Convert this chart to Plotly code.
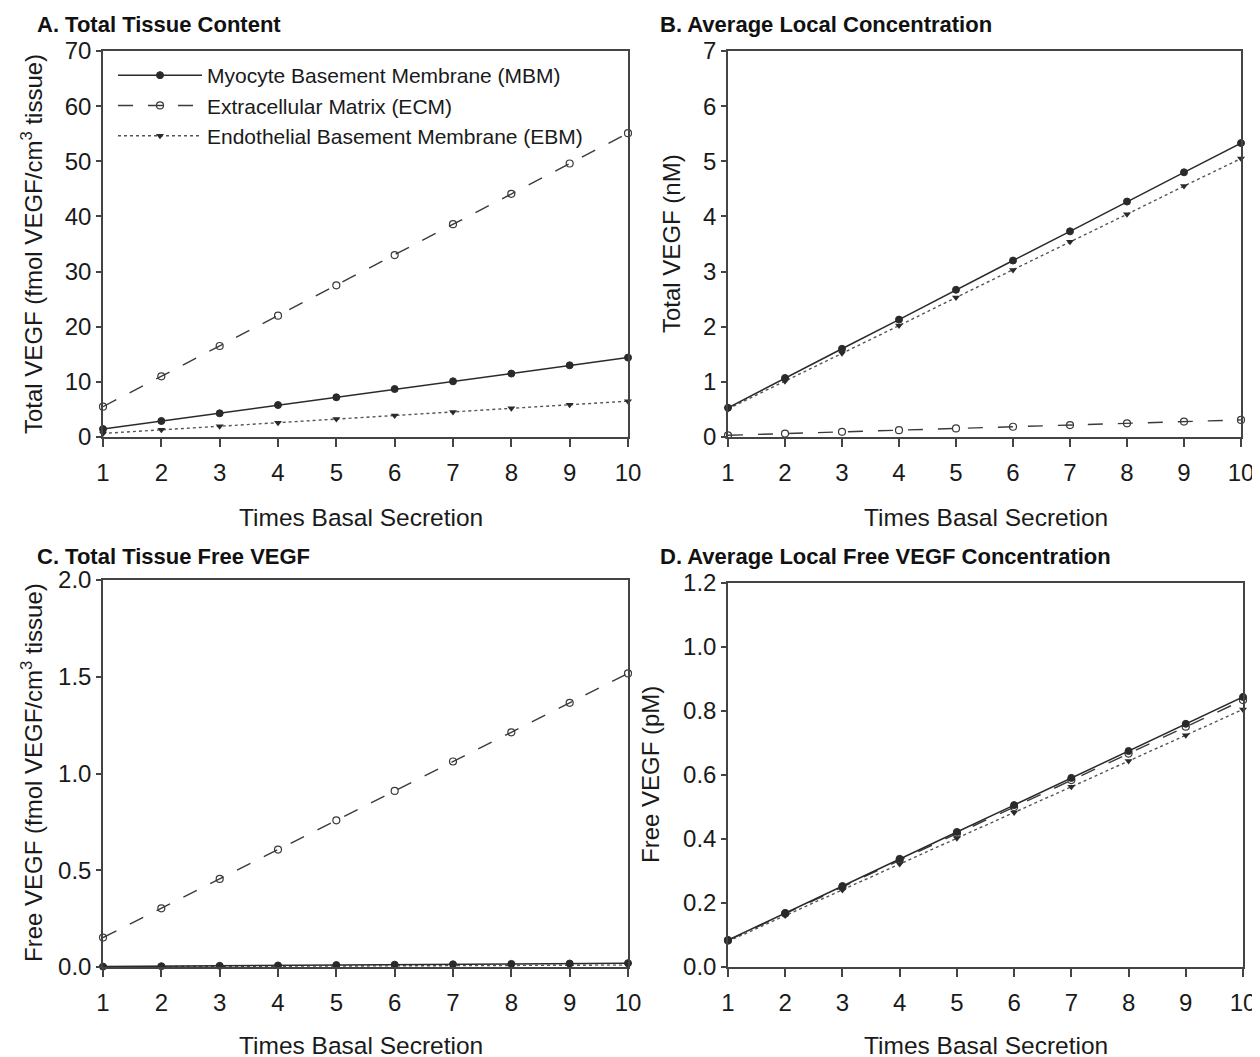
import plotly.graph_objects as go

x_vals = [1, 2, 3, 4, 5, 6, 7, 8, 9, 10]

# Panel A: Total Tissue Content (fmol VEGF/cm3 tissue)
a_mbm = [1.45, 2.9, 4.3, 5.8, 7.2, 8.7, 10.1, 11.5, 13.0, 14.4]
a_ecm = [5.5, 11.0, 16.5, 22.0, 27.5, 33.0, 38.6, 44.1, 49.6, 55.1]
a_ebm = [0.65, 1.3, 1.95, 2.6, 3.25, 3.9, 4.55, 5.2, 5.85, 6.5]

# Panel B: Average Local Concentration (nM)
b_mbm = [0.53, 1.07, 1.6, 2.13, 2.67, 3.2, 3.73, 4.27, 4.8, 5.33]
b_ecm = [0.031, 0.062, 0.093, 0.124, 0.155, 0.186, 0.217, 0.248, 0.279, 0.31]
b_ebm = [0.51, 1.01, 1.52, 2.02, 2.53, 3.03, 3.54, 4.04, 4.55, 5.05]

# Panel C: Total Tissue Free VEGF
c_mbm = [0.002, 0.004, 0.006, 0.008, 0.010, 0.012, 0.014, 0.016, 0.018, 0.020]
c_ecm = [0.152, 0.303, 0.455, 0.607, 0.758, 0.91, 1.062, 1.213, 1.365, 1.517]
c_ebm = [0.001, 0.002, 0.003, 0.004, 0.005, 0.006, 0.007, 0.008, 0.009, 0.010]

# Panel D: Average Local Free VEGF Concentration (pM)
d_mbm = [0.084, 0.169, 0.253, 0.338, 0.422, 0.506, 0.591, 0.675, 0.76, 0.844]
d_ecm = [0.083, 0.167, 0.25, 0.334, 0.417, 0.5, 0.584, 0.667, 0.751, 0.834]
d_ebm = [0.08, 0.161, 0.241, 0.322, 0.402, 0.483, 0.563, 0.644, 0.724, 0.805]

series_names = ["Myocyte Basement Membrane (MBM)",
                "Extracellular Matrix (ECM)",
                "Endothelial Basement Membrane (EBM)"]

panel_titles = ["A. Total Tissue Content", "B. Average Local Concentration",
                "C. Total Tissue Free VEGF", "D. Average Local Free VEGF Concentration"]
y_titles = ["Total VEGF (fmol VEGF/cm<sup>3</sup> tissue)", "Total VEGF (nM)",
            "Free VEGF (fmol VEGF/cm<sup>3</sup> tissue)", "Free VEGF (pM)"]
x_title = "Times Basal Secretion"

FONT = "Liberation Sans, Arial, sans-serif"
LC = "#2a2a2a"

styles = [
    dict(line=dict(color=LC, width=1.5, dash="solid"),
         marker=dict(symbol="circle", size=7, color=LC, line=dict(color=LC, width=1))),
    dict(line=dict(color="#3a3a3a", width=1.4, dash="longdash"),
         marker=dict(symbol="circle-open", size=7, color="#3a3a3a", line=dict(width=1.2))),
    dict(line=dict(color="#555555", width=1.4, dash="dot"),
         marker=dict(symbol="triangle-down", size=7, color=LC)),
]

fig = go.Figure()

panels = [
    (a_mbm, a_ecm, a_ebm),
    (b_mbm, b_ecm, b_ebm),
    (c_mbm, c_ecm, c_ebm),
    (d_mbm, d_ecm, d_ebm),
]

for i, data in enumerate(panels):
    ax = "" if i == 0 else str(i + 1)
    for j in [1, 2, 0]:
        fig.add_trace(go.Scatter(
            x=x_vals, y=data[j], mode="lines+markers", name=series_names[j],
            xaxis="x" + ax, yaxis="y" + ax, cliponaxis=False,
            showlegend=(i == 0), legendrank=j,
            line=styles[j]["line"], marker=styles[j]["marker"]))

W, H = 1260, 1057
OFF = 8  # page body margin
def fx(px): return (px - OFF) / W
def fy(py): return 1 - (py - OFF) / H

dom = [
    ([fx(103), fx(628)], [fy(437), fy(51)]),
    ([fx(728), fx(1241)], [fy(437), fy(51)]),
    ([fx(103), fx(628)], [fy(967), fy(580)]),
    ([fx(728), fx(1243)], [fy(967), fy(583)]),
]
yranges = [[0, 70], [0, 7], [0, 2.0], [0, 1.2]]
ydticks = [10, 1, 0.5, 0.2]
yfmt = ["d", "d", ".1f", ".1f"]

axis_common = dict(showline=True, linecolor="#444444", linewidth=1.5, mirror=True,
                   ticks="outside", tickcolor="#444444", showgrid=False, zeroline=False,
                   automargin=False,
                   tickfont=dict(family=FONT, size=24, color="#1a1a1a"))

layout_axes = {}
for i in range(4):
    ax = "" if i == 0 else str(i + 1)
    layout_axes["xaxis" + ax] = dict(
        domain=dom[i][0], anchor="y" + ax, range=[1, 10], tickmode="array",
        tickvals=x_vals, ticklen=8, tickwidth=1.5, ticklabelstandoff=5, **axis_common)
    layout_axes["yaxis" + ax] = dict(
        domain=dom[i][1], anchor="x" + ax, range=yranges[i], dtick=ydticks[i],
        tick0=0, tickformat=yfmt[i], ticklen=5, tickwidth=1.5, **axis_common)

annotations = []
title_pos = [(35, 25), (658, 25), (35, 556), (658, 556)]
for i, (tx, ty) in enumerate(title_pos):
    annotations.append(dict(text="<b>" + panel_titles[i] + "</b>", x=fx(tx), y=fy(ty),
                            xref="paper", yref="paper", xanchor="left", yanchor="middle",
                            showarrow=False, font=dict(family=FONT, size=22, color="#111")))
xt_pos = [(361, 517), (986, 517), (361, 1045), (986, 1045)]
for i, (tx, ty) in enumerate(xt_pos):
    annotations.append(dict(text=x_title, x=fx(tx), y=fy(ty), xref="paper", yref="paper",
                            xanchor="center", yanchor="middle", showarrow=False,
                            font=dict(family=FONT, size=24.5, color="#1a1a1a")))
yt_pos = [(32, 244), (672, 244), (32, 773), (650, 775)]
for i, (tx, ty) in enumerate(yt_pos):
    annotations.append(dict(text=y_titles[i], x=fx(tx), y=fy(ty), xref="paper", yref="paper",
                            xanchor="center", yanchor="middle", showarrow=False, textangle=-90,
                            font=dict(family=FONT, size=24, color="#1a1a1a")))

fig.update_layout(
    width=W, height=H, margin=dict(l=0, r=0, t=0, b=0, autoexpand=False),
    paper_bgcolor="white", plot_bgcolor="white",
    annotations=annotations,
    legend=dict(x=fx(113), y=fy(55), xanchor="left", yanchor="top",
                bgcolor="rgba(0,0,0,0)", font=dict(family=FONT, size=21, color="#1a1a1a"),
                tracegroupgap=0, itemwidth=84, traceorder="normal"),
    **layout_axes)

fig.write_html("out.html")
